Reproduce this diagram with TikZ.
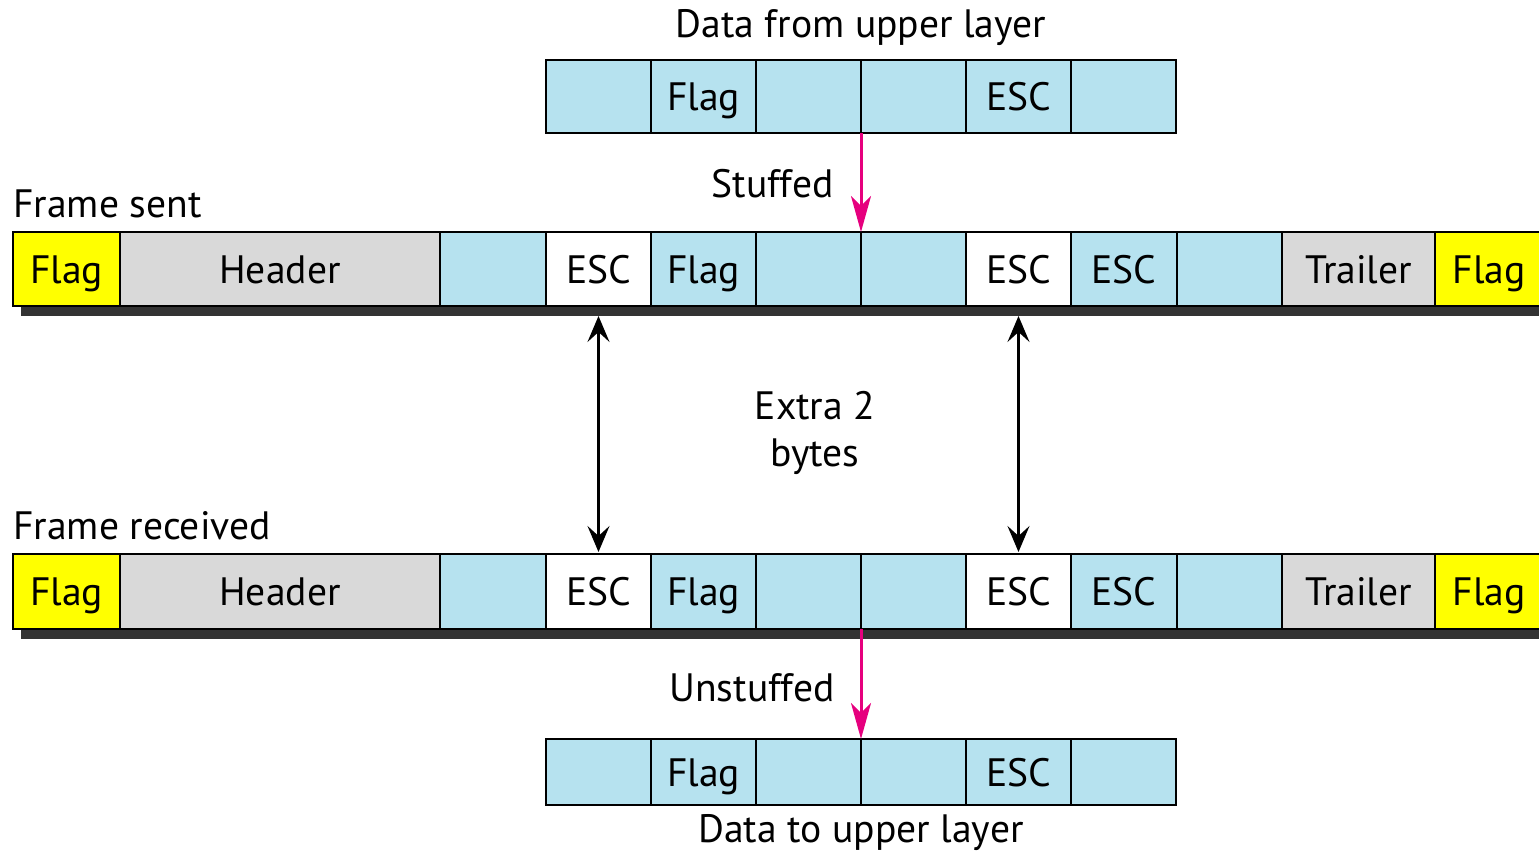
\documentclass[tikz,border=0pt]{standalone}
\usepackage{fontspec}
\setmainfont{PT Sans}
\usetikzlibrary{positioning, arrows.meta}
\definecolor{flagyellow}{RGB}{255,255,0}
\definecolor{hdrgray}{RGB}{217,217,217}
\definecolor{datablue}{RGB}{182,226,239}
\definecolor{shadowgray}{RGB}{51,51,51}
\definecolor{stuffpink}{RGB}{230,0,126}
\tikzset{
    cell/.style={draw, line width=1.2pt, inner sep=0pt, outer sep=0pt,
        text height=14.2pt, text depth=0pt,
        font=\fontsize{19.8}{23.5}\selectfont},
    rowlabel/.style={inner sep=0pt, font=\fontsize{19.8}{23.5}\selectfont},
    stuffarrow/.style={draw=stuffpink, line width=1.5pt,
        -{Stealth[length=18pt, width=10pt, inset=5pt]}},
    extraarrow/.style={line width=1.1pt,
        {Stealth[length=13pt, width=11pt, inset=5pt]}-{Stealth[length=13pt, width=11pt, inset=5pt]}},
}

\begin{document}
\begin{tikzpicture}[x=0.5pt, y=-0.5pt]
\useasboundingbox (0,0) rectangle (1539,854);

% frames, sent and received
\foreach \row/\ytop/\ybot in {sent/232/306, recv/554/629}{
    \fill[shadowgray] (21,\ybot) rectangle (1550,\ybot+10);
    \foreach \txt/\xa/\xb/\col [count=\x] in {Flag/13/120/flagyellow, Header/120/440/hdrgray,
        /440/546/datablue, ESC/546/651/white, Flag/651/756/datablue, /756/861/datablue,
        /861/966/datablue, ESC/966/1071/white, ESC/1071/1177/datablue, /1177/1282/datablue,
        Trailer/1282/1435/hdrgray, Flag/1435/1543/flagyellow}
        \node[cell, fill=\col, minimum width={(\xb-\xa)*0.5pt}, minimum height={(\ybot-\ytop)*0.5pt}]
            (\row-\x) at ({(\xa+\xb)/2},{(\ytop+\ybot)/2}) {\txt};
}

% data from / to upper layer
\foreach \row/\ytop/\ybot in {top/60/133, bot/739/805}{
    \foreach \txt/\xa [count=\x] in {/546, Flag/651, /756, /861, ESC/966, /1071}
        \node[cell, fill=datablue, minimum width=52.6pt, minimum height={(\ybot-\ytop)*0.5pt}]
            (\row-\x) at ({\xa+52.6},{(\ytop+\ybot)/2}) {\txt};
}

\draw[stuffarrow] (top-4.south west) -- (sent-7.north west);
\draw[stuffarrow] (recv-7.south west) -- (bot-4.north west);
\draw[extraarrow] ([yshift=-5pt]sent-4.south) -- ([yshift=1pt]recv-4.north);
\draw[extraarrow] ([yshift=-5pt]sent-8.south) -- ([yshift=1pt]recv-8.north);

\node[rowlabel, above=7pt of top-4.north west] (fromlbl) {Data from upper layer};
\node[rowlabel, below=4.5pt of bot-4.south west] (tolbl) {Data to upper layer};
\node[rowlabel, anchor=east] (stufflbl) at (834,184) {Stuffed};
\node[rowlabel, anchor=east] (unstufflbl) at (835,688) {Unstuffed};
\node[rowlabel, anchor=west] (sentlbl) at (13,204) {Frame sent};
\node[rowlabel, anchor=west] (recvlbl) at (13,526) {Frame received};
\node[rowlabel, align=center] (extralbl) at (815,433) {Extra 2\\bytes};

\end{tikzpicture}
\end{document}
